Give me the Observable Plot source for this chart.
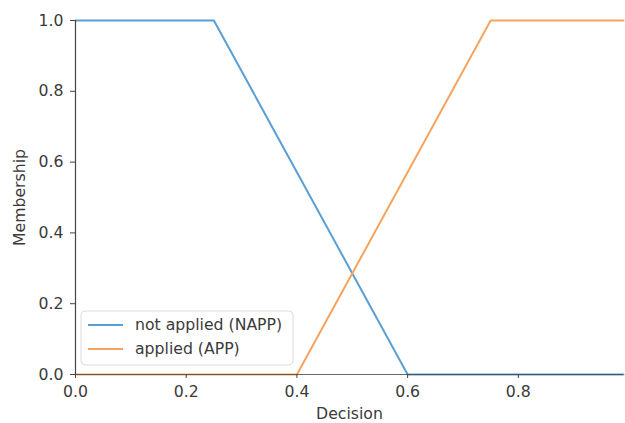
<!DOCTYPE html>
<html>
<head>
<meta charset="utf-8">
<script src="https://cdn.jsdelivr.net/npm/d3@7"></script>
<script src="https://cdn.jsdelivr.net/npm/@observablehq/plot@0.6"></script>
<style>
  html, body { margin: 0; padding: 0; background: #fff; }
  #chart { position: relative; width: 625px; height: 423px; }
</style>
</head>
<body>
<div id="chart"></div>
<script>
const seriesNames = ["not applied (NAPP)", "applied (APP)"];
const seriesColors = ["#5a9fd4", "#f7a35e"];
const nappX = [0, 0.25, 0.6, 0.99];
const nappY = [1, 1, 0, 0];
const appX = [0, 0.4, 0.75, 0.99];
const appY = [0, 0, 1, 1];
const xTicks = [0, 0.2, 0.4, 0.6, 0.8];
const yTicks = [0, 0.2, 0.4, 0.6, 0.8, 1.0];

const data = [
  ...nappX.map((x, i) => ({x, y: nappY[i], s: seriesNames[0]})),
  ...appX.map((x, i) => ({x, y: appY[i], s: seriesNames[1]}))
];

const FS = 15.7;
const plot = Plot.plot({
  width: 625,
  height: 423,
  marginLeft: 75,
  marginRight: 2,
  marginTop: 20,
  marginBottom: 49,
  style: {fontFamily: "DejaVu Sans", fontSize: FS + "px", color: "#3a3a3a", background: "#fff"},
  x: {domain: [0, 0.99]},
  y: {domain: [0, 1]},
  color: {domain: seriesNames, range: seriesColors},
  marks: [
    Plot.line(data, {x: "x", y: "y", z: "s", stroke: "s", strokeWidth: 2}),
    Plot.ruleY([0], {stroke: "#444", strokeWidth: 1.1, strokeOpacity: 0.8}),
    Plot.ruleX([0], {stroke: "#444", strokeWidth: 1.2}),
    Plot.axisX({ticks: xTicks, tickFormat: ".1f", tickSize: 4, tickPadding: 7, fontSize: FS,
      label: "Decision", labelAnchor: "center", labelArrow: "none", labelOffset: 44, stroke: "#444"}),
    Plot.axisY({ticks: yTicks, tickFormat: ".1f", tickSize: 5, tickPadding: 7, fontSize: FS,
      label: "Membership", labelAnchor: "center", labelArrow: "none", labelOffset: 62, stroke: "#444"})
  ]
});
document.getElementById("chart").appendChild(plot);

// legend inside the plot frame (lower left)
const svg = d3.select(plot);
const lg = svg.append("g").attr("transform", "translate(81,311)");
lg.append("rect").attr("width", 212).attr("height", 54).attr("rx", 4)
  .attr("fill", "rgba(255,255,255,0.85)").attr("stroke", "#dcdcdc");
seriesNames.forEach((name, i) => {
  const yy = 14 + i * 24;
  lg.append("line").attr("x1", 7).attr("x2", 42).attr("y1", yy).attr("y2", yy)
    .attr("stroke", seriesColors[i]).attr("stroke-width", 2);
  lg.append("text").attr("x", 54).attr("y", yy).attr("dy", "0.35em")
    .attr("text-anchor", "start")
    .attr("font-family", "DejaVu Sans").attr("font-size", FS).attr("fill", "#3a3a3a").text(name);
});
</script>
</body>
</html>
